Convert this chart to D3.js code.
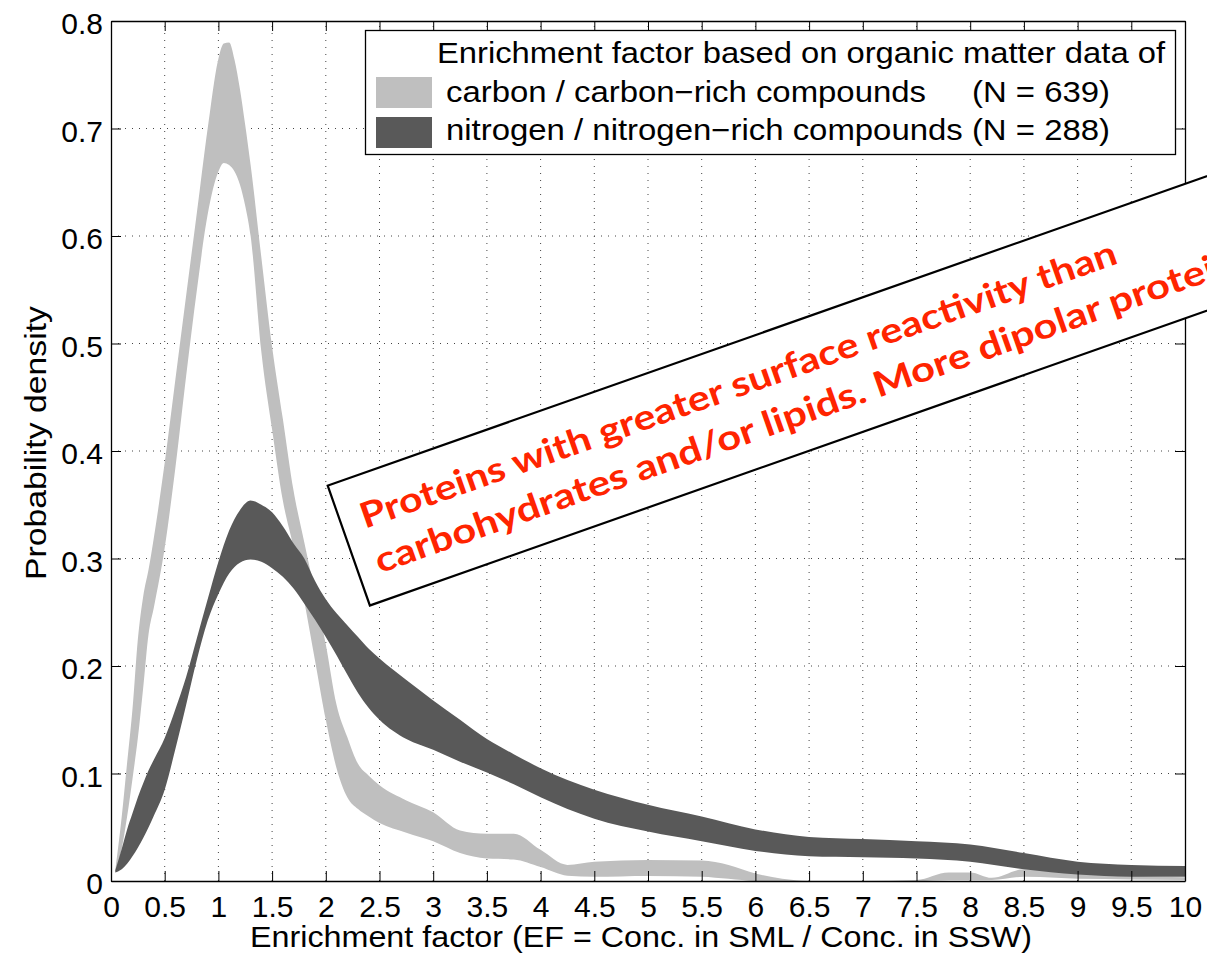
<!DOCTYPE html>
<html>
<head>
<meta charset="utf-8">
<script src="https://cdn.jsdelivr.net/npm/d3@7"></script>
<style>
  html, body { margin: 0; padding: 0; background: #fff; }
  svg { display: block; }
</style>
</head>
<body>
<svg id="chart" width="1207" height="955"></svg>
<script>
// Enrichment factor grid and density envelopes (lower / upper bound) per compound class
const efCarbon = [0.04, 0.1, 0.15, 0.2, 0.25, 0.3, 0.35, 0.4,
  0.5, 0.6, 0.7, 0.8, 0.9, 1.0, 1.05, 1.1, 1.15, 1.2, 1.25,
  1.3, 1.4, 1.5, 1.6, 1.7, 1.8, 1.9, 2.0, 2.1, 2.2, 2.3, 2.4, 2.5,
  2.75, 3.0, 3.25, 3.5, 3.75, 4.0, 4.25, 4.5,
  5.0, 5.5, 5.75, 6.0, 6.25, 6.5, 7.0, 7.5, 7.8, 8.0, 8.2, 8.5, 8.8, 9.0, 9.5, 10];
const carbonUpper = [0.010, 0.06, 0.11, 0.16, 0.225, 0.265, 0.29, 0.32,
  0.389, 0.467, 0.545, 0.622, 0.70, 0.765, 0.779, 0.78, 0.764, 0.737, 0.703,
  0.666, 0.58, 0.497, 0.43, 0.363, 0.315, 0.268, 0.22, 0.164, 0.134, 0.109, 0.098, 0.089,
  0.075, 0.064, 0.047, 0.044, 0.044, 0.029, 0.015, 0.018,
  0.0195, 0.019, 0.015, 0.007, 0.002, 0, 0, 0.001, 0.008, 0.008, 0.003, 0.011, 0.011, 0.008, 0.005, 0.0035];
const carbonLower = [0.008, 0.03, 0.06, 0.095, 0.133, 0.18, 0.23, 0.255,
  0.31, 0.385, 0.47, 0.55, 0.62, 0.66, 0.668, 0.666, 0.66, 0.648, 0.628,
  0.60, 0.492, 0.42, 0.354, 0.31, 0.26, 0.205, 0.15, 0.105, 0.078, 0.067, 0.06, 0.054,
  0.045, 0.037, 0.026, 0.021, 0.02, 0.013, 0.005, 0.004,
  0.0047, 0.004, 0.002, 0, 0, 0, 0, 0, 0.001, 0.001, 0.001, 0.004, 0.003, 0.002, 0.0015, 0.001];

const efNitrogen = [0.04, 0.1, 0.15, 0.2, 0.25, 0.3, 0.35, 0.4,
  0.5, 0.6, 0.7, 0.8, 0.9, 1.0,
  1.1, 1.2, 1.3, 1.4, 1.5, 1.6, 1.7, 1.8, 1.9, 2.0, 2.1, 2.2, 2.3, 2.4, 2.5,
  2.75, 3.0, 3.25, 3.5, 3.75, 4.0, 4.25, 4.5,
  5.0, 5.5, 6.0, 6.5, 7.0, 7.5, 8.0, 8.5, 9.0, 9.5, 10];
const nitrogenUpper = [0.010, 0.03, 0.048, 0.063, 0.078, 0.091, 0.103, 0.113,
  0.133, 0.16, 0.19, 0.226, 0.262, 0.297,
  0.326, 0.345, 0.354, 0.350, 0.343, 0.33, 0.314, 0.30, 0.279, 0.262, 0.249, 0.238, 0.227, 0.216, 0.207,
  0.187, 0.168, 0.150, 0.132, 0.118, 0.105, 0.094, 0.085,
  0.071, 0.060, 0.048, 0.041, 0.039, 0.037, 0.034, 0.026, 0.018, 0.015, 0.014];
const nitrogenLower = [0.008, 0.011, 0.016, 0.023, 0.031, 0.04, 0.05, 0.061,
  0.085, 0.123, 0.164, 0.206, 0.242, 0.267,
  0.286, 0.296, 0.299, 0.297, 0.291, 0.283, 0.272, 0.258, 0.243, 0.227, 0.21, 0.192, 0.175, 0.161, 0.15,
  0.132, 0.122, 0.111, 0.101, 0.09, 0.078, 0.067, 0.058,
  0.046, 0.037, 0.028, 0.023, 0.022, 0.021, 0.018, 0.011, 0.006, 0.004, 0.004];

const xTicks = [0, 0.5, 1, 1.5, 2, 2.5, 3, 3.5, 4, 4.5, 5, 5.5, 6, 6.5, 7, 7.5, 8, 8.5, 9, 9.5, 10];
const yTicks = [0, 0.1, 0.2, 0.3, 0.4, 0.5, 0.6, 0.7, 0.8];

const legendTitle = "Enrichment factor based on organic matter data of";
const seriesNames = ["carbon / carbon\u2212rich compounds", "nitrogen / nitrogen\u2212rich compounds"];
const seriesCounts = [639, 288];
const xLabel = "Enrichment factor (EF = Conc. in SML / Conc. in SSW)";
const yLabel = "Probability density";
const noteLines = ["Proteins with greater surface reactivity than",
                   "carbohydrates and/or lipids. More dipolar proteins"];

// ---- layout ----
const svg = d3.select("#chart");
const FONT = "'Liberation Sans', Arial, Helvetica, sans-serif";
const x = d3.scaleLinear().domain([0, 10]).range([111, 1185]);
const y = d3.scaleLinear().domain([0, 0.8]).range([881, 21]);

// dotted grid
const grid = svg.append("g")
  .attr("stroke", "#444").attr("stroke-width", 1).attr("stroke-dasharray", "1,6");
grid.selectAll("line.gv").data(xTicks.filter(d => d > 0 && d < 10)).join("line")
  .attr("class", "gv")
  .attr("x1", d => x(d)).attr("x2", d => x(d))
  .attr("y1", y(0)).attr("y2", y(0.8));
grid.selectAll("line.gh").data(yTicks.filter(d => d > 0 && d < 0.8)).join("line")
  .attr("class", "gh")
  .attr("y1", d => y(d)).attr("y2", d => y(d))
  .attr("x1", x(0)).attr("x2", x(10));

// density envelopes
function band(xs, lo, hi) {
  return d3.area()
    .x((d, i) => x(xs[i]))
    .y0((d, i) => y(lo[i]))
    .y1((d, i) => y(hi[i]))
    .curve(d3.curveMonotoneX)(xs);
}
const colors = ["#bfbfbf", "#595959"];
svg.append("path").attr("d", band(efCarbon, carbonLower, carbonUpper)).attr("fill", colors[0]);
svg.append("path").attr("d", band(efNitrogen, nitrogenLower, nitrogenUpper)).attr("fill", colors[1]);

// axes (ticks pointing inward, box on all four sides)
function styleAxis(g) {
  g.attr("font-family", FONT).attr("font-size", 30);
  g.select(".domain").attr("stroke", "#000").attr("stroke-width", 1.3);
  g.selectAll(".tick line").attr("stroke", "#000").attr("stroke-width", 1);
}
const gx = svg.append("g").attr("transform", `translate(0,${y(0)})`)
  .call(d3.axisBottom(x).tickValues(xTicks).tickFormat(d => String(d)).tickSize(-10).tickSizeOuter(0))
  .call(styleAxis);
gx.selectAll(".tick text").attr("y", 36).attr("dy", null).attr("fill", "#000");

const gy = svg.append("g").attr("transform", `translate(${x(0)},0)`)
  .call(d3.axisLeft(y).tickValues(yTicks).tickFormat(d => String(d)).tickSize(-10).tickSizeOuter(0))
  .call(styleAxis);
gy.selectAll(".tick text").attr("x", -8).attr("y", 12.5).attr("dy", null).attr("fill", "#000");

svg.append("g").attr("transform", `translate(0,${y(0.8)})`)
  .call(d3.axisTop(x).tickValues(xTicks).tickFormat("").tickSize(-10).tickSizeOuter(0))
  .call(styleAxis);
svg.append("g").attr("transform", `translate(${x(10)},0)`)
  .call(d3.axisRight(y).tickValues(yTicks).tickFormat("").tickSize(-10).tickSizeOuter(0))
  .call(styleAxis);

// axis titles
svg.append("text")
  .attr("x", 250).attr("y", 947)
  .attr("font-family", FONT).attr("font-size", 29)
  .attr("textLength", 782).attr("lengthAdjust", "spacingAndGlyphs")
  .text(xLabel);
svg.append("text")
  .attr("transform", "translate(46,580) rotate(-90)")
  .attr("font-family", FONT).attr("font-size", 30)
  .attr("textLength", 274).attr("lengthAdjust", "spacingAndGlyphs")
  .text(yLabel);

// legend
const lg = svg.append("g").attr("font-family", FONT).attr("font-size", 29).attr("fill", "#000");
lg.append("rect")
  .attr("x", 365.5).attr("y", 30.5).attr("width", 810).attr("height", 124)
  .attr("fill", "#fff").attr("stroke", "#000").attr("stroke-width", 1.3);
lg.append("text").attr("x", 437).attr("y", 63)
  .attr("textLength", 728).attr("lengthAdjust", "spacingAndGlyphs")
  .text(legendTitle);
const rowY = [102, 140];
const patchY = [77, 117];
seriesNames.forEach((name, i) => {
  lg.append("rect").attr("x", 376).attr("y", patchY[i]).attr("width", 56).attr("height", 31)
    .attr("fill", colors[i]);
});
lg.append("text").attr("x", 446).attr("y", rowY[0])
  .attr("textLength", 480).attr("lengthAdjust", "spacingAndGlyphs")
  .text(seriesNames[0]);
lg.append("text").attr("x", 972).attr("y", rowY[0])
  .attr("textLength", 138).attr("lengthAdjust", "spacingAndGlyphs")
  .text(`(N = ${seriesCounts[0]})`);
lg.append("text").attr("x", 446).attr("y", rowY[1])
  .attr("textLength", 664).attr("lengthAdjust", "spacingAndGlyphs")
  .text(`${seriesNames[1]} (N = ${seriesCounts[1]})`);

// tilted call-out box
const note = svg.append("g").attr("transform", "translate(327.7,485.7) rotate(-19.4)");
note.append("rect")
  .attr("width", 1200).attr("height", 127)
  .attr("fill", "#fff").attr("stroke", "#000").attr("stroke-width", 2.2);
const noteFont = "Lato, 'Open Sans', 'Noto Sans', sans-serif";
const t1 = note.append("text")
  .attr("font-family", noteFont).attr("font-weight", 700).attr("font-size", 35)
  .attr("fill", "#ff2400").text(noteLines[0]);
const sx = 800 / t1.node().getComputedTextLength();
t1.attr("transform", `translate(21,53) scale(${sx},1)`);
note.append("text")
  .attr("font-family", noteFont).attr("font-weight", 700).attr("font-size", 35)
  .attr("fill", "#ff2400")
  .attr("transform", `translate(20,100) scale(${sx * 1.02},1)`)
  .text(noteLines[1]);
</script>
</body>
</html>
